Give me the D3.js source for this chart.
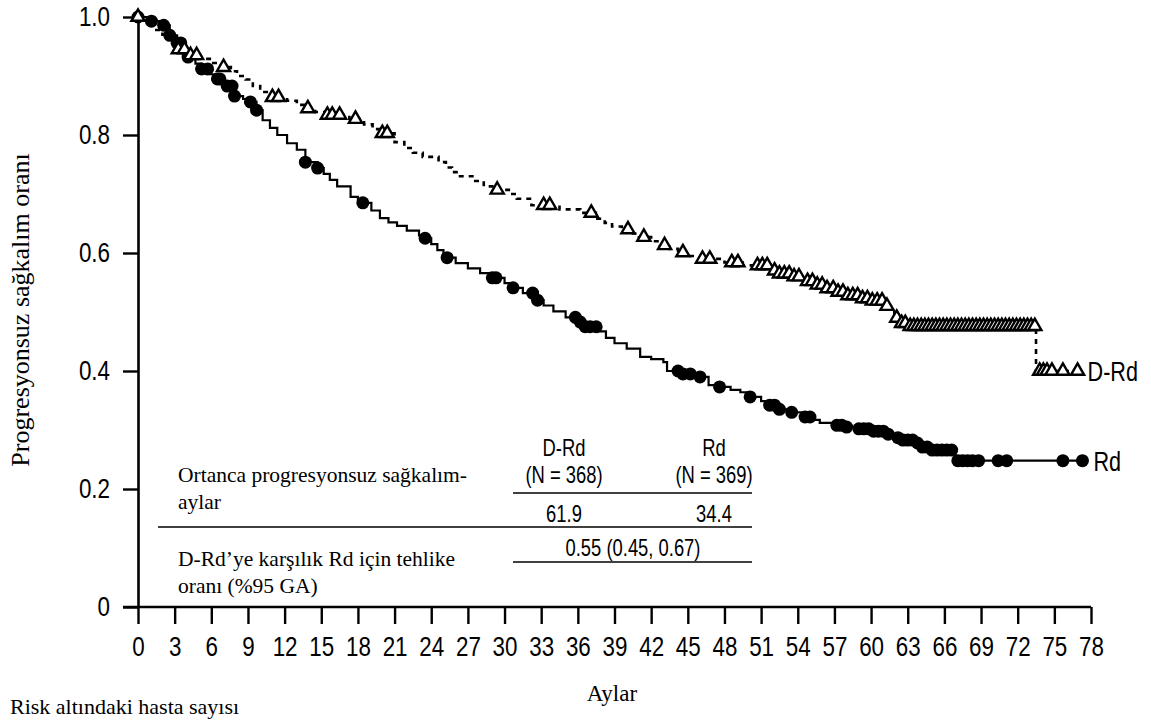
<!DOCTYPE html>
<html><head><meta charset="utf-8">
<script src="https://cdn.jsdelivr.net/npm/d3@7"></script>
<style>
body{margin:0;background:#fff;}
.narrow{font-family:"Liberation Sans",Arial,sans-serif;}
.serif{font-family:"Liberation Serif","Times New Roman",serif;}
</style></head>
<body><svg id="c" width="1151" height="720"></svg>
<script>
// ---- data ----
const xTicks = [0,3,6,9,12,15,18,21,24,27,30,33,36,39,42,45,48,51,54,57,60,63,66,69,72,75,78];
const yTicks = [0,0.2,0.4,0.6,0.8,1.0];
const yTickLabels = ["0","0.2","0.4","0.6","0.8","1.0"];

// Rd (solid, filled circles)
const rdTimes = [0,1.1,2.1,2.6,3.2,3.7,4.1,4.7,5.2,5.9,6.5,7.0,7.3,7.9,8.6,9.2,9.7,10.2,10.8,11.4,12.2,13.0,13.7,14.7,15.2,15.7,16.3,17.4,18.0,18.4,19.1,19.8,20.5,21.2,22.0,23.0,23.5,24.0,24.5,25.0,25.3,26.0,27.0,28.0,29.0,30.0,30.7,31.5,32.5,33.2,34.0,35.0,35.9,36.5,37.6,38.3,39.0,40.0,41.1,42.0,43.0,43.3,44.5,45.5,46.7,47.6,48.5,49.3,50.1,51.0,51.7,52.4,53.5,54.5,55.2,55.8,56.9,58.0,58.9,60.0,61.3,62.0,62.6,63.5,64.2,65.0,66.9];
const rdSurv  = [1.0,0.993,0.986,0.969,0.956,0.944,0.932,0.921,0.912,0.903,0.895,0.889,0.883,0.866,0.861,0.856,0.842,0.825,0.812,0.8,0.786,0.775,0.754,0.744,0.734,0.724,0.713,0.695,0.69,0.685,0.672,0.659,0.652,0.646,0.638,0.63,0.625,0.615,0.605,0.597,0.592,0.583,0.574,0.566,0.558,0.549,0.541,0.532,0.52,0.511,0.501,0.491,0.483,0.475,0.467,0.456,0.447,0.438,0.424,0.42,0.415,0.40,0.395,0.39,0.376,0.373,0.368,0.364,0.356,0.349,0.342,0.335,0.33,0.322,0.317,0.312,0.308,0.305,0.302,0.298,0.293,0.287,0.283,0.278,0.271,0.266,0.248];
const rdEnd = 77.3;
const rdCensor = [0,1.1,2.1,2.6,3.2,3.5,4.1,5.2,5.7,6.5,6.7,7.3,7.7,7.9,9.2,9.7,13.7,14.7,18.4,23.5,25.3,29.0,29.3,30.7,32.3,32.7,35.8,36.2,36.6,37.0,37.5,44.2,44.6,45.2,46.0,47.6,50.1,51.7,52.1,52.5,53.5,54.6,55.0,57.2,57.6,58.0,59.0,59.4,59.8,60.2,60.6,61.0,61.4,62.2,62.6,63.0,63.4,63.8,64.2,64.6,65.0,65.4,65.8,66.2,66.6,67.1,67.5,67.9,68.3,68.8,70.4,71.1,75.7,77.3];

// D-Rd (dashed, open triangles)
const drdTimes = [0,0.8,1.3,2.0,2.6,3.1,4.0,5.0,6.0,6.8,7.6,8.1,8.8,9.4,10.0,10.8,12.2,13.0,13.7,14.5,15.3,17.3,18.5,19.2,19.8,21.0,21.8,22.5,23.3,24.6,25.2,25.7,26.2,27.6,28.3,29.0,30.5,31.0,32.2,34.5,36.2,37.6,38.2,38.8,39.6,40.5,41.0,42.0,42.7,43.5,44.2,45.0,46.0,48.0,49.5,51.8,52.5,53.5,54.5,55.5,56.3,57.2,58.0,59.0,60.0,61.2,61.5,61.9,62.3,63.0,73.5];
const drdSurv  = [1.0,0.99,0.978,0.97,0.958,0.945,0.935,0.929,0.922,0.915,0.908,0.9,0.894,0.883,0.873,0.864,0.858,0.851,0.845,0.839,0.834,0.827,0.818,0.81,0.803,0.788,0.778,0.77,0.763,0.754,0.745,0.737,0.73,0.722,0.713,0.707,0.7,0.692,0.681,0.674,0.668,0.658,0.651,0.645,0.64,0.633,0.627,0.62,0.613,0.607,0.601,0.595,0.59,0.584,0.579,0.57,0.565,0.56,0.552,0.546,0.54,0.534,0.528,0.523,0.519,0.51,0.5,0.49,0.481,0.476,0.40];
const drdEnd = 76.9;
const drdCensor = [0,3.3,3.8,4.3,4.8,7.0,11.0,11.5,13.9,15.5,15.9,16.5,17.8,20.0,20.4,29.4,33.2,33.7,37.1,40.1,41.4,43.1,44.6,46.2,46.8,48.6,49.1,50.7,51.1,51.5,52.1,52.5,52.9,53.3,53.7,54.1,54.8,55.2,55.6,56.0,56.4,56.9,57.3,57.7,58.1,58.5,58.9,59.3,59.7,60.1,60.5,60.9,61.3,62.1,62.5,62.8,63.2,63.5,63.8,64.1,64.4,64.7,65.0,65.3,65.6,65.9,66.2,66.5,66.8,67.1,67.4,67.7,68.0,68.3,68.6,68.9,69.2,69.5,69.8,70.1,70.4,70.7,71.0,71.3,71.6,71.9,72.2,72.5,72.8,73.1,73.4,73.8,74.1,74.4,74.8,75.7,76.9];

const seriesLabels = ["D-Rd","Rd"];
const tableHeader = [["D-Rd","(N = 368)"],["Rd","(N = 369)"]];
const medians = ["61.9","34.4"];
const hrText = "0.55 (0.45, 0.67)";

// ---- chart ----
const SX = 0.8; // horizontal condensing for the narrow sans text
const svg = d3.select("#c");
const x = d3.scaleLinear().domain([0,78]).range([138,1091]);
const y = d3.scaleLinear().domain([0,1]).range([607,17]);

function stepPts(times, surv, end){
  const p = times.map((t,i)=>[t,surv[i]]);
  p.push([end, surv[surv.length-1]]);
  return p;
}
function survAt(times, surv, t){
  const i = d3.bisectRight(times, t) - 1;
  return surv[Math.max(0,i)];
}
function narrow(parent, tx, ty, size, anchor, txt){
  return parent.append("text").attr("class","narrow").attr("font-size",size)
    .attr("text-anchor",anchor).attr("transform",`translate(${tx},${ty}) scale(${SX},1)`).text(txt);
}
const line = d3.line().x(d=>x(d[0])).y(d=>y(d[1])).curve(d3.curveStepAfter);

// axes
const gx = svg.append("g").attr("transform","translate(0,607)")
  .call(d3.axisBottom(x).tickValues(xTicks).tickSize(17).tickPadding(12).tickSizeOuter(0).tickFormat(d3.format("d")));
const gy = svg.append("g").attr("transform","translate(138,0)")
  .call(d3.axisLeft(y).tickValues(yTicks).tickSize(15).tickPadding(13).tickSizeOuter(0).tickFormat((d,i)=>yTickLabels[i]));
[gx,gy].forEach(g=>{
  g.selectAll("path.domain").attr("stroke","#000").attr("stroke-width",2.6);
  g.selectAll(".tick line").attr("stroke","#000").attr("stroke-width",2.4);
  g.selectAll(".tick text").attr("class","narrow").attr("font-size",28).attr("fill","#000")
    .attr("transform",`scale(${SX},1)`);
});
gy.selectAll(".tick text").attr("x",-28/SX);
gx.select("path.domain").attr("d",`M${x(0)-15},0H${x(78)}`);

// curves
svg.append("path").attr("d",line(stepPts(rdTimes,rdSurv,rdEnd)))
  .attr("fill","none").attr("stroke","#000").attr("stroke-width",2.2);
svg.append("path").attr("d",line(stepPts(drdTimes,drdSurv,drdEnd)))
  .attr("fill","none").attr("stroke","#000").attr("stroke-width",2.6).attr("stroke-dasharray","5,5");

// censor markers
svg.append("g").selectAll("circle").data(rdCensor).join("circle")
  .attr("cx",d=>x(d)).attr("cy",d=>y(survAt(rdTimes,rdSurv,d))).attr("r",6.5).attr("fill","#000");
const tri = d3.symbol().type(d3.symbolTriangle).size(75);
svg.append("g").selectAll("path").data(drdCensor).join("path")
  .attr("d",tri).attr("transform",d=>`translate(${x(d)},${y(survAt(drdTimes,drdSurv,d))})`)
  .attr("fill","#fff").attr("stroke","#000").attr("stroke-width",2.4);

// series labels
narrow(svg, x(drdEnd)+10, y(drdSurv[drdSurv.length-1])+10, 27, "start", seriesLabels[0]);
narrow(svg, x(rdEnd)+11, y(rdSurv[rdSurv.length-1])+10, 27, "start", seriesLabels[1]);

// axis titles
svg.append("text").attr("class","serif").attr("font-size",26).attr("text-anchor","middle")
  .attr("transform","translate(29,310) rotate(-90)").text("Progresyonsuz sağkalım oranı");
svg.append("text").attr("class","serif").attr("font-size",23).attr("text-anchor","middle")
  .attr("x",612).attr("y",701).text("Aylar");
svg.append("text").attr("class","serif").attr("font-size",22)
  .attr("x",10).attr("y",714).text("Risk altındaki hasta sayısı");

// table
const colX = [564,714];
const tb = svg.append("g");
tableHeader.forEach((h,i)=>{
  narrow(tb, colX[i], 456, 23, "middle", h[0]);
  narrow(tb, colX[i], 483, 23, "middle", h[1]);
  narrow(tb, colX[i], 522, 23, "middle", medians[i]);
});
narrow(tb, 633, 556, 23, "middle", hrText);
tb.append("line").attr("x1",513).attr("x2",752).attr("y1",493).attr("y2",493).attr("stroke","#000").attr("stroke-width",1.4);
tb.append("line").attr("x1",158).attr("x2",752).attr("y1",527).attr("y2",527).attr("stroke","#000").attr("stroke-width",1.4);
tb.append("line").attr("x1",513).attr("x2",752).attr("y1",562).attr("y2",562).attr("stroke","#000").attr("stroke-width",1.4);
const serifRows = [["Ortanca progresyonsuz sağkalım-",482],["aylar",509],["D-Rd’ye karşılık Rd için tehlike",566],["oranı (%95 GA)",593]];
serifRows.forEach(r=>tb.append("text").attr("class","serif").attr("font-size",21.5).attr("x",178).attr("y",r[1]).text(r[0]));
</script></body></html>
